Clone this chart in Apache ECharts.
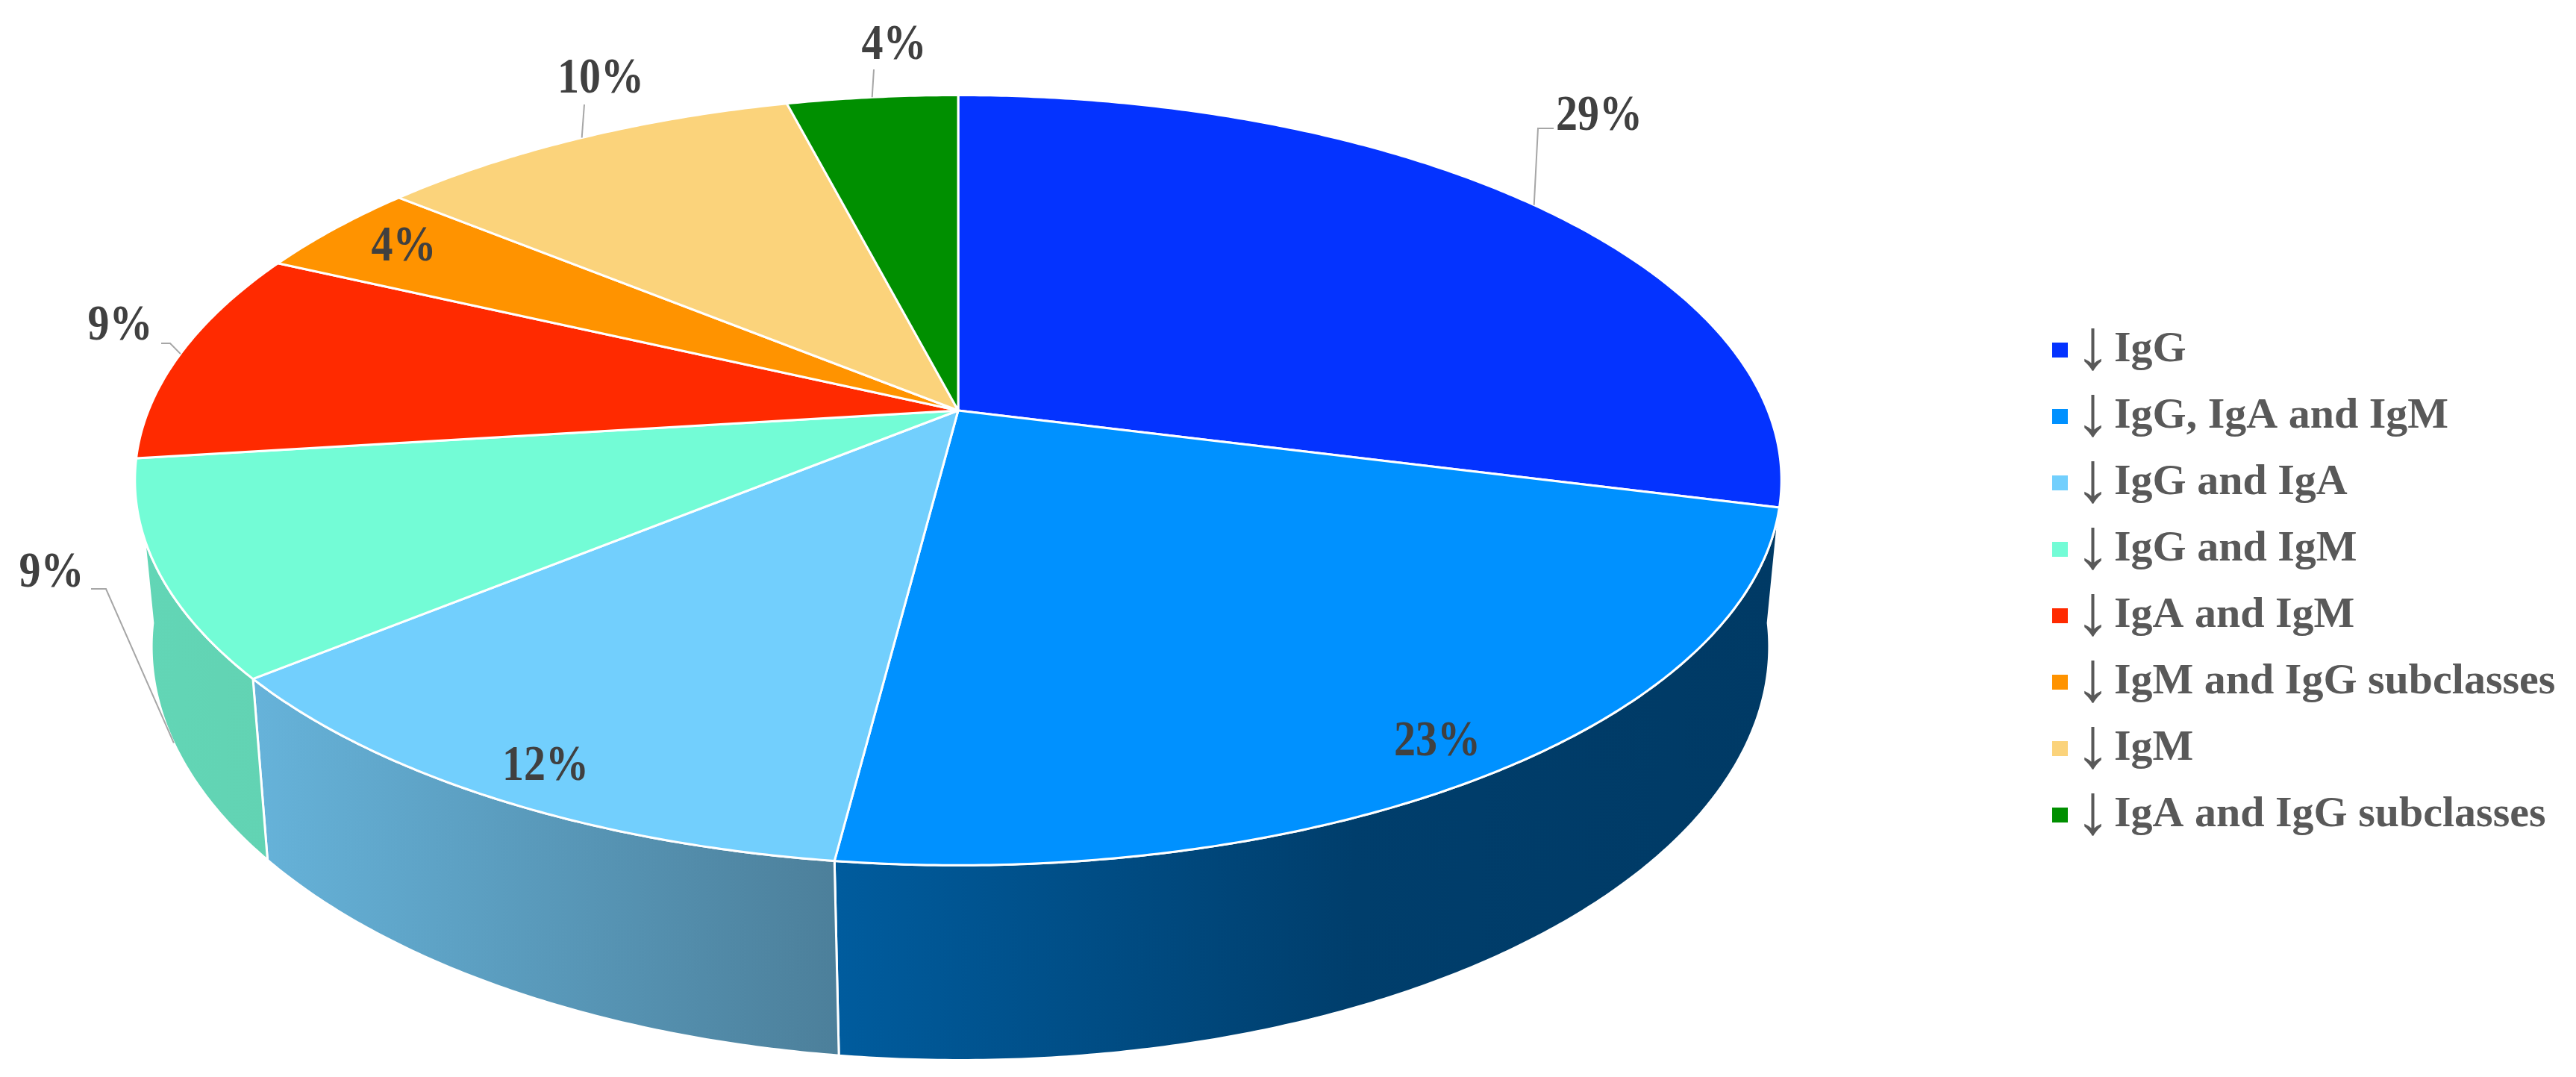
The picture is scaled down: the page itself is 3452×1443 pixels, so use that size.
<!DOCTYPE html>
<html>
<head>
<meta charset="utf-8">
<title>Ig deficiency pie</title>
<script src="https://cdn.jsdelivr.net/npm/echarts@6/dist/echarts.min.js"></script>
<style>
html, body { margin: 0; padding: 0; background: #fff; }
#main { width: 3452px; height: 1443px; }
</style>
</head>
<body>
<div id="main"></div>
<script>
var categories = ['↓ IgG', '↓ IgG, IgA and IgM', '↓ IgG and IgA', '↓ IgG and IgM', '↓ IgA and IgM', '↓ IgM and IgG subclasses', '↓ IgM', '↓ IgA and IgG subclasses'];
var values = [29, 23, 12, 9, 9, 4, 10, 4];
var colors = ['#0433ff', '#0091ff', '#72cffd', '#73fcd6', '#ff2a00', '#ff9300', '#fbd37b', '#008f00'];

// side wall shading, only the slices that face the viewer have one
var wallShades = [
    null,
    [[0, '#005c9e'], [0.55, '#003e6c'], [1, '#003a65']],
    [[0, '#66b3da'], [1, '#4c7f9a']],
    [[0, '#62d6b6'], [1, '#62d3b3']],
    null, null, null, null
];

// perspective circles for the lid and the base of the pie
var lid = { cx: 1284, cy: 550, rx: 1085, ry: 499, k: 0.181 };
var base = { cx: 1287, cy: 766, rx: 1066, ry: 536, k: 0.181 };

// how far the base curve runs on behind the slice edge, so the outline stays smooth
var wallWrap = [0, 2, 0, 0, 0, 0, 0, 0];

// label centres and leader bends, in page pixels
var labelSpots = [[2143, 157], [1926, 995], [731, 1028], [69, 769], [161, 438], [541, 332], [805, 107], [1198, 62]];
var leaderBends = [
    [[2061, 172], [2082, 172]],
    null,
    null,
    [[142, 789], [122, 789]],
    [[228, 460], [216, 460]],
    null,
    [[783, 140]],
    [[1171, 93]]
];

function project(c, pct) {
    var a = pct / 100 * Math.PI * 2;
    var d = 1 + c.k * Math.cos(a);
    return [c.cx + c.rx * Math.sin(a) / d, c.cy - c.ry * Math.cos(a) / d];
}

function arc(c, from, to) {
    var pts = [];
    var n = Math.max(2, Math.ceil(Math.abs(to - from) * 8));
    for (var i = 0; i <= n; i++) {
        pts.push(project(c, from + (to - from) * i / n));
    }
    return pts;
}

function renderSlice(params, api) {
    var idx = params.seriesIndex;
    var start = api.value(0);
    var end = start + api.value(1);
    var mid = (start + end) / 2;
    var children = [];

    if (wallShades[idx]) {
        var stops = wallShades[idx].map(function (s) {
            return { offset: s[0], color: s[1] };
        });
        children.push({
            type: 'polygon',
            z2: 1,
            shape: { points: arc(lid, start, end).concat(arc(base, end, start - wallWrap[idx])) },
            style: {
                fill: new echarts.graphic.LinearGradient(0, 0, 1, 0, stops),
                stroke: '#fff',
                lineWidth: 3,
                lineJoin: 'round'
            }
        });
    }

    children.push({
        type: 'polygon',
        z2: 2,
        shape: { points: [[lid.cx, lid.cy]].concat(arc(lid, start, end)) },
        style: { fill: colors[idx], stroke: '#fff', lineWidth: 3, lineJoin: 'round' }
    });

    if (leaderBends[idx]) {
        // the 9% teal slice points at the foot of its wall, the others at the lid rim
        var foot = wallShades[idx] ? project(base, mid) : project(lid, mid);
        children.push({
            type: 'polyline',
            z2: 3,
            shape: { points: [foot].concat(leaderBends[idx]) },
            style: { fill: null, stroke: '#a6a6a6', lineWidth: 2 }
        });
    }

    children.push({
        type: 'text',
        z2: 4,
        x: labelSpots[idx][0],
        y: labelSpots[idx][1],
        scaleY: 1.15,
        style: {
            x: 0,
            y: 0,
            text: api.value(1) + '%',
            fill: '#404040',
            font: 'bold 58px "Liberation Serif"',
            textAlign: 'center',
            textVerticalAlign: 'middle'
        }
    });

    return { type: 'group', children: children };
}

var myChart = echarts.init(document.getElementById('main'), null, { renderer: 'canvas' });

var running = 0;
var seriesList = categories.map(function (name, i) {
    var item = {
        name: name,
        type: 'custom',
        coordinateSystem: 'none',
        renderItem: renderSlice,
        silent: true,
        itemStyle: { color: colors[i] },
        data: [[running, values[i]]]
    };
    running += values[i];
    return item;
});

var option = {
    animation: false,
    backgroundColor: '#fff',
    legend: {
        orient: 'vertical',
        left: 2745,
        top: 416,
        itemWidth: 21,
        itemHeight: 20,
        itemGap: -7,
        icon: 'rect',
        selectedMode: false,
        data: categories,
        formatter: function (name) {
            return '{ar|↓}{tx|' + name.replace('↓ ', '') + '}';
        },
        textStyle: {
            lineHeight: 60,
            rich: {
                ar: { fontFamily: 'Liberation Serif', fontSize: 96, color: '#595959', width: 57, align: 'center', lineHeight: 60 },
                tx: { fontFamily: 'Liberation Serif', fontWeight: 'bold', fontSize: 58, color: '#595959', lineHeight: 60 }
            }
        }
    },
    series: seriesList
};

myChart.setOption(option);
</script>
</body>
</html>
